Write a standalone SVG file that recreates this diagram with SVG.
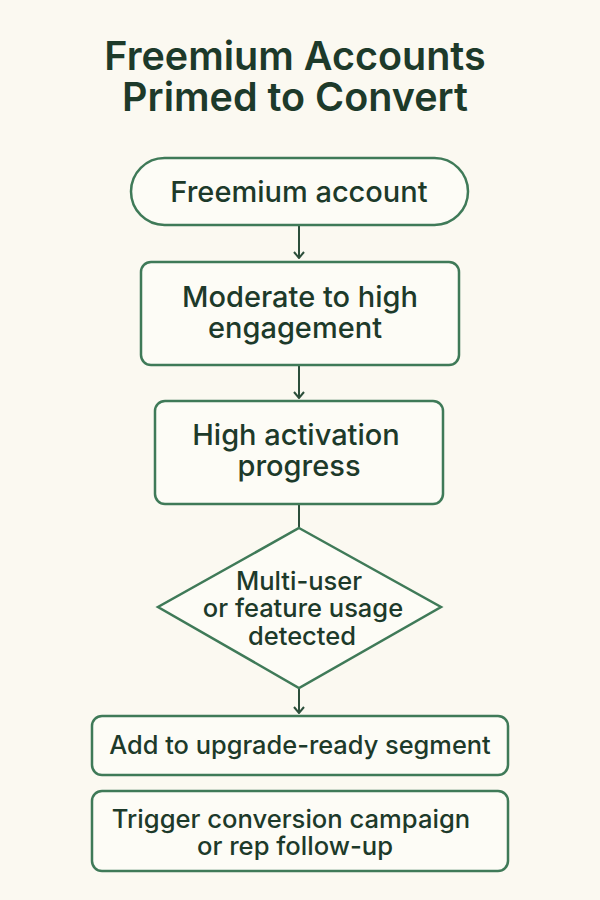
<svg xmlns="http://www.w3.org/2000/svg" width="600" height="900" viewBox="0 0 600 900">
<defs>
<style>
.bg{fill:#fbf9f1}
.node{fill:#fdfcf6;stroke:#3f7a58;stroke-width:2.5}
.t{font-family:Inter,"Liberation Sans",sans-serif;fill:#1d3a2a;text-anchor:middle;font-weight:500}
.title{font-size:39.5px;font-weight:600}
.conn{stroke:#2c4f3b;stroke-width:2;fill:none}
</style>
<marker id="arr" viewBox="0 0 12 12" refX="6" refY="11" markerWidth="12" markerHeight="12" markerUnits="userSpaceOnUse">
<path d="M1,5 L6,11 L11,5" fill="none" stroke="#2c4f3b" stroke-width="2"/>
</marker>
</defs>
<rect class="bg" x="0" y="0" width="600" height="900"/>
<g id="title">
<text class="t title" x="295" y="70">Freemium Accounts</text>
<text class="t title" x="295" y="111">Primed to Convert</text>
</g>
<g id="connectors">
<line class="conn" x1="299" y1="226" x2="299" y2="258" marker-end="url(#arr)"/>
<line class="conn" x1="299" y1="366" x2="299" y2="398" marker-end="url(#arr)"/>
<line class="conn" x1="299" y1="505" x2="299" y2="528"/>
<line class="conn" x1="299" y1="688" x2="299" y2="713" marker-end="url(#arr)"/>
</g>
<g id="n1">
<rect class="node" x="131" y="158" width="337" height="67" rx="33.5"/>
<text class="t" x="299" y="202" font-size="29">Freemium account</text>
</g>
<g id="n2">
<rect class="node" x="141" y="262" width="318" height="103" rx="10"/>
<text class="t" x="300" y="307" font-size="29">Moderate to high</text>
<text class="t" x="295" y="338" font-size="29">engagement</text>
</g>
<g id="n3">
<rect class="node" x="155" y="401" width="288" height="103" rx="10"/>
<text class="t" x="296" y="445" font-size="29">High activation</text>
<text class="t" x="299" y="476" font-size="29">progress</text>
</g>
<g id="n4">
<polygon class="node" points="299,528 441,607 299,688 158,607"/>
<text class="t" x="299" y="590" font-size="25.5">Multi-user</text>
<text class="t" x="303" y="617" font-size="25.5">or feature usage</text>
<text class="t" x="302" y="645" font-size="25.5">detected</text>
</g>
<g id="n5">
<rect class="node" x="92" y="716" width="416" height="59" rx="10"/>
<text class="t" x="300" y="754" font-size="25.4">Add to upgrade-ready segment</text>
</g>
<g id="n6">
<rect class="node" x="92" y="791" width="416" height="80" rx="10"/>
<text class="t" x="291" y="828" font-size="25.6">Trigger conversion campaign</text>
<text class="t" x="295" y="855" font-size="25.6">or rep follow-up</text>
</g>
</svg>
